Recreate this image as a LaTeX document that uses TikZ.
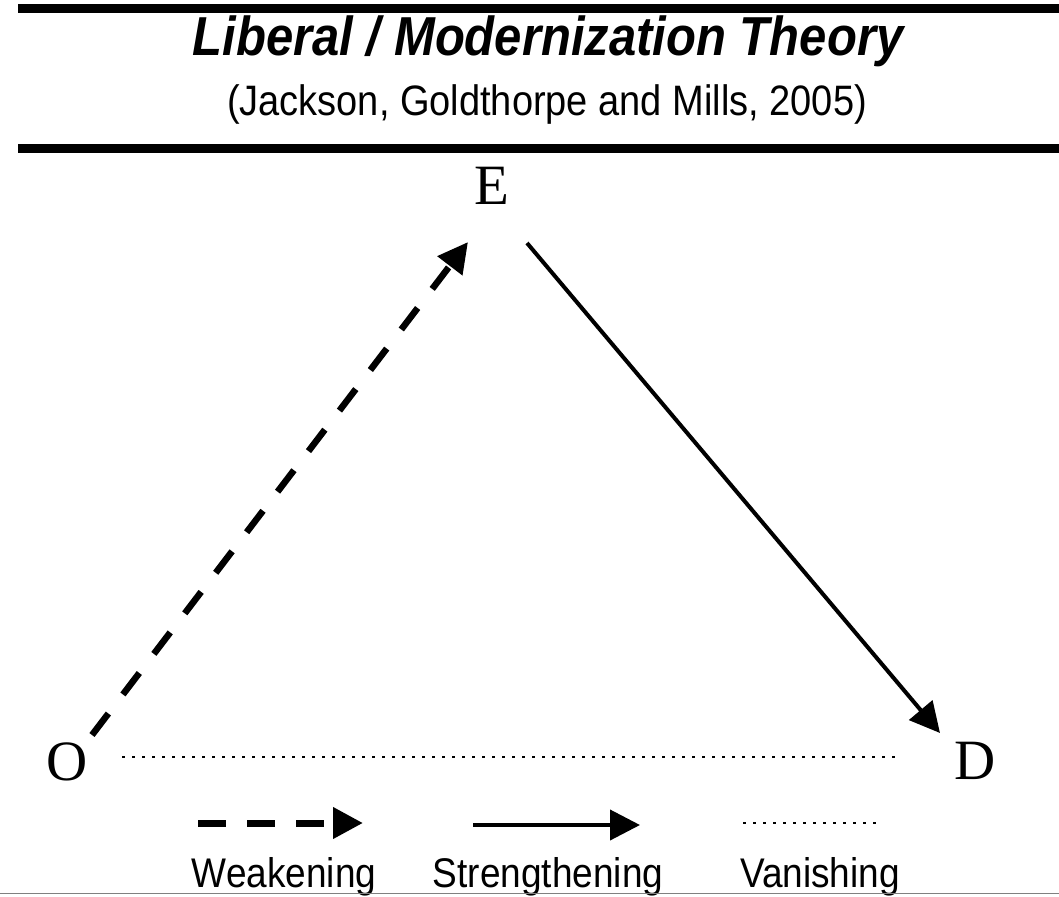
\documentclass[tikz,border=0pt]{standalone}
\usepackage{fontspec}
\setmainfont{Liberation Serif}
\newfontfamily\arialfont{Liberation Sans}
\usetikzlibrary{arrows.meta,calc}
% taller, slightly condensed-looking sans lettering
\newcommand{\tallsans}[1]{\scalebox{1}[1.12]{#1}}
\begin{document}
\begin{tikzpicture}[x=1pt,y=-1pt,
  rulebar/.style={line width=9pt},
  letter/.style={font=\fontsize{57}{57}\selectfont, inner sep=0pt},
  tip/.style={-{Triangle[length=30pt,width=30pt]}},
  weak/.style={tip, line width=6.5pt, dash pattern=on 27pt off 24pt},
  strong/.style={tip, line width=4pt},
  vanish/.style={line width=2.5pt, dash pattern=on 2.5pt off 7.5pt},
  legendtext/.style={font=\arialfont\fontsize{37}{37}\selectfont, anchor=base, inner sep=0pt}]
\useasboundingbox (0,0) rectangle (1059,896);
\fill[white] (0,0) rectangle (1059,896);

% header rules and title
\draw[rulebar] (18,8.5) -- (1059,8.5);
\draw[rulebar] (18,148.5) -- (1059,148.5);
\node[font=\arialfont\bfseries\itshape\fontsize{49}{49}\selectfont, anchor=base, inner sep=0pt]
  (title) at (548,56) {\tallsans{Liberal / Modernization Theory}};
\node[font=\arialfont\fontsize{38}{38}\selectfont, anchor=base, inner sep=0pt]
  (subtitle) at (547,116) {\tallsans{(Jackson, Goldthorpe and Mills, 2005)}};

% the three variables
\node[letter] (E) at (492,186) {E};
\node[letter] (O) at (67,762) {O};
\node[letter] (D) at (975,761) {D};

% relations between them
\draw[weak] ($(O)+(25,-27)$) -- ($(E)+(-24,56)$);
\draw[strong] ($(E)+(35,57)$) -- ($(D)+(-35,-28)$);
\draw[vanish] ($(O)+(55,-5)$) -- ($(D)+(-77,-4)$);

% legend
\coordinate (lw1) at (198,823);
\coordinate (lw2) at (363,823);
\coordinate (ls1) at (473,825);
\coordinate (ls2) at (640,825);
\coordinate (lv1) at (743,823);
\coordinate (lv2) at (880,823);
\draw[weak, line width=7pt, dash pattern=on 28pt off 21pt] (lw1) -- (lw2);
\draw[strong] (ls1) -- (ls2);
\draw[vanish] (lv1) -- (lv2);
\node[legendtext] (lwt) at (284,887) {\tallsans{Weakening}};
\node[legendtext] (lst) at (548,887) {\tallsans{Strengthening}};
\node[legendtext] (lvt) at (820,887) {\tallsans{Vanishing}};

% bottom edge
\draw[gray, line width=1.5pt] (0,893.5) -- (1059,893.5);
\end{tikzpicture}
\end{document}
